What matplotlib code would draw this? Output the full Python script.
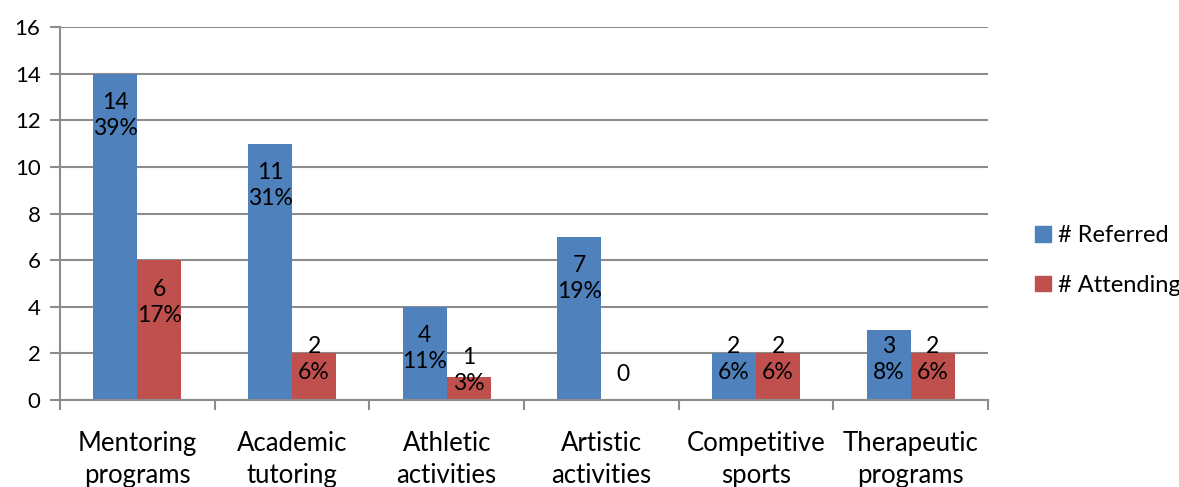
import matplotlib
matplotlib.use("Agg")
import matplotlib.pyplot as plt
from matplotlib.patches import Patch
import numpy as np

plt.rcParams['font.family'] = ['Lato', 'DejaVu Sans']

categories = ["Mentoring\nprograms", "Academic\ntutoring", "Athletic\nactivities",
              "Artistic\nactivities", "Competitive\nsports", "Therapeutic\nprograms"]
referred = [14, 11, 4, 7, 2, 3]
referred_pct = ["39%", "31%", "11%", "19%", "6%", "8%"]
attending = [6, 2, 1, 0, 2, 2]
attending_pct = ["17%", "6%", "3%", "", "6%", "6%"]

blue = "#4F81BD"
red = "#C0504D"
grid = "#8C8C8C"

fig = plt.figure(figsize=(11.79, 4.87), dpi=100)
ax = fig.add_axes([0.0509, 0.1786, 0.7871, 0.766])

x = np.arange(len(categories))
w = 0.285
ax.bar(x - w / 2, referred, w, color=blue, zorder=3)
ax.bar(x + w / 2, attending, w, color=red, zorder=3)


def label_y(v):
    # inside-end placement, pushed up when the bar is too short
    return max(v - 1.8, min(1.72, v + 0.25))


for xi, v, p in zip(x - w / 2, referred, referred_pct):
    ax.text(xi, label_y(v), f"{v}\n{p}", ha='center', va='center',
            fontsize=16.5, linespacing=1.3, zorder=4)
for xi, v, p in zip(x + w / 2, attending, attending_pct):
    if v == 0:
        ax.text(xi, 1.1, "0", ha='center', va='center', fontsize=16.5, zorder=4)
    else:
        ax.text(xi, label_y(v), f"{v}\n{p}", ha='center', va='center',
                fontsize=16.5, linespacing=1.3, zorder=4)

ax.set_ylim(0, 16)
ax.set_yticks(range(0, 17, 2))
ax.set_xlim(-0.5, len(categories) - 0.5)
ax.set_xticks(np.arange(-0.5, len(categories)), [])
ax.set_xticks(x, categories, minor=True)
ax.tick_params(axis='x', which='major', length=7, width=1.5, color=grid)
ax.tick_params(axis='x', which='minor', length=0, pad=22, labelsize=18.5)
ax.tick_params(axis='y', length=7, width=1.5, color=grid, labelsize=16, pad=7)
for lbl in ax.get_xticklabels(minor=True):
    lbl.set_linespacing(1.35)

ax.yaxis.grid(True, color=grid, linewidth=1.5, zorder=0)
for s in ['top', 'right']:
    ax.spines[s].set_visible(False)
for s in ['left', 'bottom']:
    ax.spines[s].set_color(grid)
    ax.spines[s].set_linewidth(1.5)
    ax.spines[s].set_zorder(5)

handles = [Patch(color=blue, label="# Referred"), Patch(color=red, label="# Attending")]
fig.legend(handles=handles, loc='center left', bbox_to_anchor=(0.86, 0.465),
           frameon=False, fontsize=17, handlelength=0.65, handleheight=0.65,
           handletextpad=0.3, labelspacing=1.2)

fig.savefig("out.png", dpi=100)
